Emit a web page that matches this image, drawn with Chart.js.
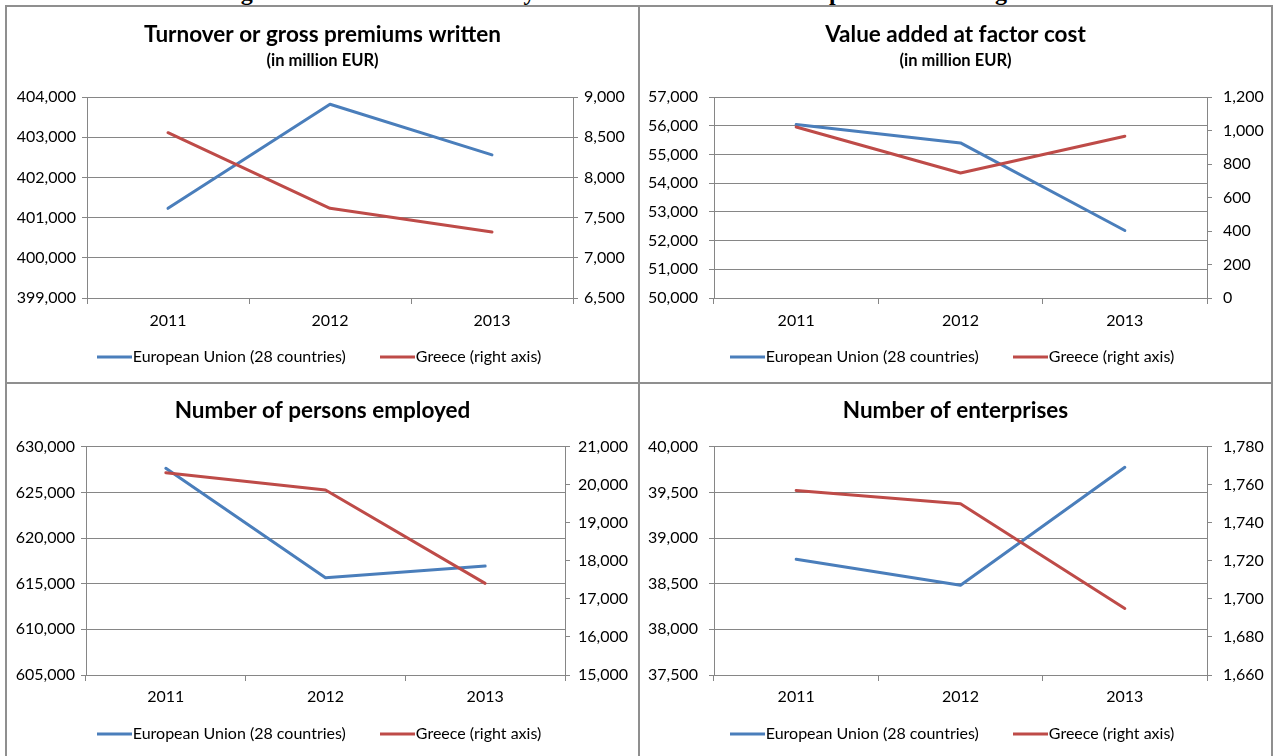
<!DOCTYPE html>
<html>
<head>
<meta charset="utf-8">
<script src="https://cdn.jsdelivr.net/npm/chart.js@4.4.1/dist/chart.umd.min.js"></script>
<style>
  html, body { margin: 0; padding: 0; background: #fff; width: 1273px; height: 756px; overflow: hidden; }
  .rule { position: absolute; background: #8f8f8f; }
  .panel { position: absolute; }
  #figtitle { position: absolute; left: 0; width: 1273px; top: -20px; text-align: center;
              font: bold 24px "Liberation Serif", "Times New Roman", serif; line-height: 24px;
              color: #000; white-space: nowrap; }
</style>
</head>
<body>
<div id="figtitle">Figure 1: Trends of the activity in the sector of wholesale of pharmaceutical goods</div>

<div class="rule" style="left:5px;top:5px;width:1268px;height:2px"></div>
<div class="rule" style="left:5px;top:382px;width:1268px;height:2px"></div>
<div class="rule" style="left:5px;top:5px;width:2px;height:751px"></div>
<div class="rule" style="left:638px;top:5px;width:2px;height:751px"></div>
<div class="rule" style="left:1271px;top:5px;width:2px;height:751px"></div>

<div class="panel" style="left:7px;top:7px;width:631px;height:375px"><canvas id="turnover"></canvas></div>
<div class="panel" style="left:640px;top:7px;width:631px;height:375px"><canvas id="valueAdded"></canvas></div>
<div class="panel" style="left:7px;top:384px;width:631px;height:372px"><canvas id="employed"></canvas></div>
<div class="panel" style="left:640px;top:384px;width:631px;height:372px"><canvas id="enterprises"></canvas></div>

<script>
// Reference years
const years = ['2011', '2012', '2013'];

// Turnover or gross premiums written (million EUR)
const euTurnover = [401230, 403820, 402560];
const grTurnover = [8556, 7616, 7321];

// Value added at factor cost (million EUR)
const euValueAdded = [56040, 55400, 52350];
const grValueAdded = [1021, 746, 966];

// Number of persons employed
const euEmployed = [627630, 615650, 616930];
const grEmployed = [20317, 19862, 17409];

// Number of enterprises
const euEnterprises = [38767, 38482, 39774];
const grEnterprises = [1757, 1750, 1695];

// Axis ranges: [min, max, step]
const turnoverLeftAxis = [399000, 404000, 1000];
const turnoverRightAxis = [6500, 9000, 500];
const valueAddedLeftAxis = [50000, 57000, 1000];
const valueAddedRightAxis = [0, 1200, 200];
const employedLeftAxis = [605000, 630000, 5000];
const employedRightAxis = [15000, 21000, 1000];
const enterprisesLeftAxis = [37500, 40000, 500];
const enterprisesRightAxis = [1660, 1780, 20];

const seriesNames = ['European Union (28 countries)', 'Greece (right axis)'];

const EU_BLUE = '#4a7ebb';
const GR_RED = '#be4b48';
const AXIS_GREY = '#868686';
const FONT = 'Lato, "Open Sans", sans-serif';
const LABEL_SIZE = 16;

Chart.defaults.font.family = FONT;
Chart.defaults.color = '#000';

// Short horizontal stroke used as the legend marker
function legendStroke(color, length) {
  const c = document.createElement('canvas');
  c.width = length;
  c.height = 4;
  const g = c.getContext('2d');
  g.fillStyle = color;
  g.fillRect(0, 0.5, length, 3);
  return c;
}

const formatThousands = v => Number(v).toLocaleString('en-US');

function yAxis(position, range, width, pad, onArea) {
  return {
    type: 'linear',
    position: position,
    min: range[0],
    max: range[1],
    afterFit: s => { s.width = width; },
    border: { display: true, color: AXIS_GREY, width: 1 },
    grid: { display: true, drawOnChartArea: onArea, drawTicks: true, tickLength: 5, color: AXIS_GREY, lineWidth: 1 },
    ticks: { stepSize: range[2], padding: pad, color: '#000', font: { size: LABEL_SIZE }, callback: formatThousands }
  };
}

function buildChart(id, p) {
  const strokes = [legendStroke(EU_BLUE, 35), legendStroke(GR_RED, 35)];
  new Chart(document.getElementById(id), {
    type: 'line',
    data: {
      labels: years,
      datasets: [
        { label: seriesNames[0], data: p.eu, yAxisID: 'yLeft', borderColor: EU_BLUE, backgroundColor: EU_BLUE,
          borderWidth: 3, pointRadius: 0, tension: 0, order: 1, borderJoinStyle: 'round', borderCapStyle: 'round' },
        { label: seriesNames[1], data: p.gr, yAxisID: 'yRight', borderColor: GR_RED, backgroundColor: GR_RED,
          borderWidth: 3, pointRadius: 0, tension: 0, order: 0, borderJoinStyle: 'round', borderCapStyle: 'round' }
      ]
    },
    options: {
      responsive: true,
      maintainAspectRatio: false,
      animation: false,
      devicePixelRatio: 1,
      events: [],
      layout: { padding: { top: 0, left: 0, right: 0, bottom: p.padBottom } },
      scales: {
        x: {
          type: 'category',
          offset: true,
          afterFit: s => { s.height = p.xHeight; },
          border: { display: true, color: AXIS_GREY, width: 1 },
          grid: { display: true, offset: true, drawOnChartArea: false, drawTicks: true, tickLength: 6, color: AXIS_GREY },
          // mirrored labels are not clipped to the (short) axis box; the negative
          // padding places them below the axis line
          ticks: { mirror: true, padding: p.xPad, color: '#000', font: { size: LABEL_SIZE }, maxRotation: 0 }
        },
        yLeft: yAxis('left', p.left, p.leftWidth, p.leftPad, true),
        yRight: yAxis('right', p.right, p.rightWidth, p.rightPad, false)
      },
      plugins: {
        title: {
          display: true,
          text: p.title,
          color: '#000',
          font: { size: 22.5, weight: 'bold' },
          padding: { top: p.titleTop, bottom: p.titleBottom }
        },
        subtitle: {
          display: !!p.subtitle,
          text: p.subtitle || '',
          color: '#000',
          font: { size: 16.5, weight: 'bold' },
          padding: { top: 0, bottom: p.subtitleBottom || 0 }
        },
        legend: {
          display: true,
          position: 'bottom',
          labels: {
            color: '#000',
            font: { size: LABEL_SIZE },
            usePointStyle: true,
            pointStyleWidth: 21,
            padding: 41,
            sort: (a, b) => a.datasetIndex - b.datasetIndex,
            generateLabels: chart => Chart.defaults.plugins.legend.labels.generateLabels(chart)
              .map(item => Object.assign(item, { pointStyle: strokes[item.datasetIndex] }))
          }
        },
        tooltip: { enabled: false }
      }
    }
  });
}

buildChart('turnover', {
  title: 'Turnover or gross premiums written', subtitle: '(in million EUR)',
  eu: euTurnover, gr: grTurnover, left: turnoverLeftAxis, right: turnoverRightAxis,
  titleTop: 14.5, titleBottom: 2.6, subtitleBottom: 26.1,
  leftWidth: 80, rightWidth: 65, leftPad: 6, rightPad: 6,
  xHeight: 10, xPad: -32.6, padBottom: 7
});

buildChart('valueAdded', {
  title: 'Value added at factor cost', subtitle: '(in million EUR)',
  eu: euValueAdded, gr: grValueAdded, left: valueAddedLeftAxis, right: valueAddedRightAxis,
  titleTop: 14.5, titleBottom: 2.6, subtitleBottom: 26.1,
  leftWidth: 74, rightWidth: 64, leftPad: 11, rightPad: 11,
  xHeight: 10, xPad: -32.6, padBottom: 7
});

buildChart('employed', {
  title: 'Number of persons employed',
  eu: euEmployed, gr: grEmployed, left: employedLeftAxis, right: employedRightAxis,
  titleTop: 13.5, titleBottom: 22.2,
  leftWidth: 79, rightWidth: 73, leftPad: 6, rightPad: 8,
  xHeight: 10, xPad: -31.3, padBottom: 4
});

buildChart('enterprises', {
  title: 'Number of enterprises',
  eu: euEnterprises, gr: grEnterprises, left: enterprisesLeftAxis, right: enterprisesRightAxis,
  titleTop: 13.5, titleBottom: 22.2,
  leftWidth: 74, rightWidth: 64, leftPad: 11, rightPad: 11,
  xHeight: 10, xPad: -31.3, padBottom: 4
});
</script>
</body>
</html>
